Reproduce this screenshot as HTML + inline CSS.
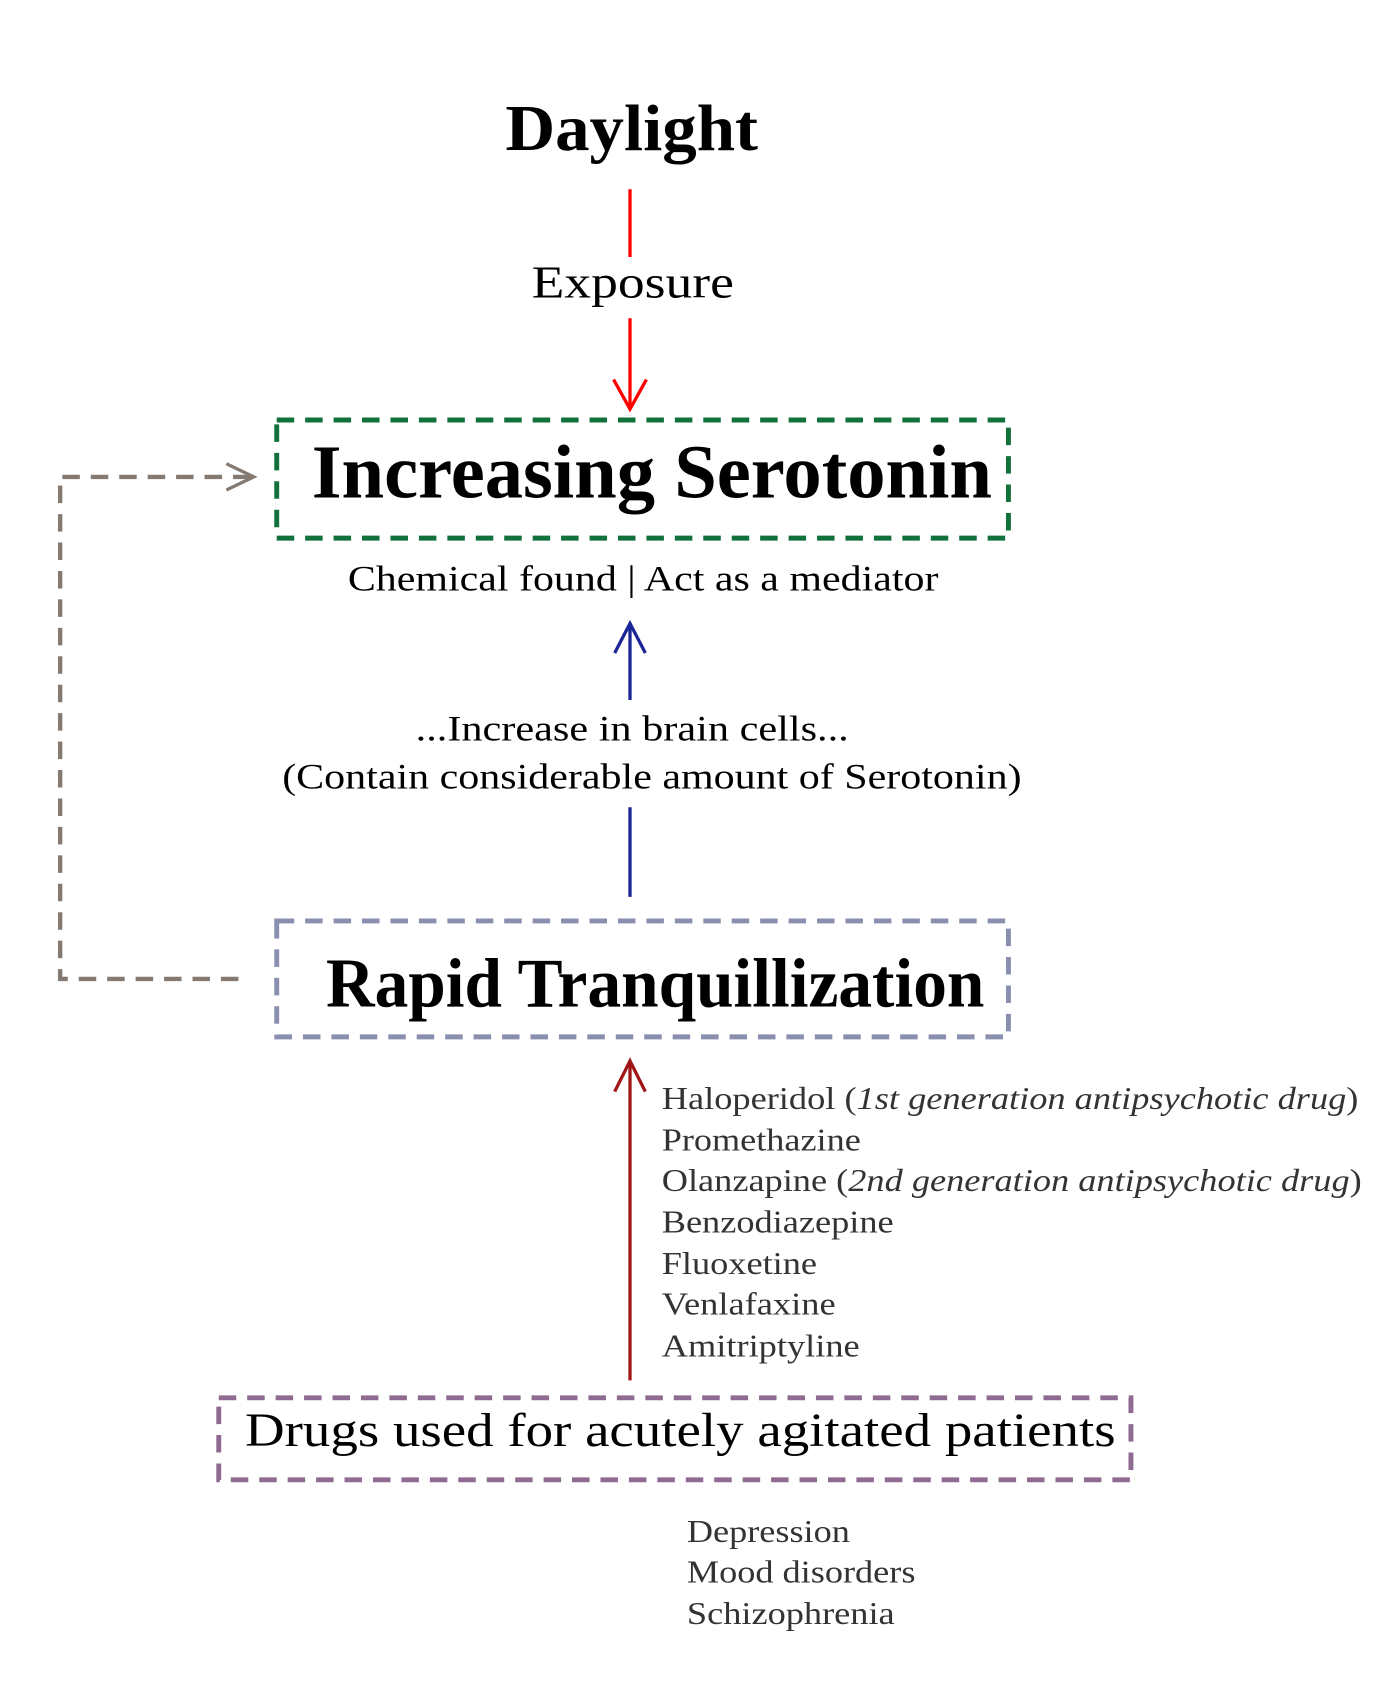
<!DOCTYPE html>
<html><head><style>html,body{margin:0;padding:0;background:#fff}svg{display:block}</style></head>
<body>
<svg width="1400" height="1708" viewBox="0 0 1280 1561.6" xmlns="http://www.w3.org/2000/svg" font-family="'Liberation Serif', serif">
<rect width="1280" height="1562" fill="#fff"/>
<text x="462" y="137" font-size="60" font-weight="bold" textLength="231" lengthAdjust="spacingAndGlyphs">Daylight</text>
<line x1="576" y1="173" x2="576" y2="235" stroke="#f00" stroke-width="3"/>
<text x="486" y="272" font-size="42" textLength="185" lengthAdjust="spacingAndGlyphs">Exposure</text>
<line x1="576" y1="291" x2="576" y2="373" stroke="#f00" stroke-width="3"/>
<polyline points="561,347 576,374 591,347" fill="none" stroke="#f00" stroke-width="3"/>
<rect x="253" y="384" width="669" height="108" fill="none" stroke="#12703a" stroke-width="4.5" stroke-dasharray="16,10"/>
<text x="285" y="455" font-size="70" font-weight="bold" textLength="622" lengthAdjust="spacingAndGlyphs">Increasing Serotonin</text>
<text x="318" y="540" font-size="33" textLength="540" lengthAdjust="spacingAndGlyphs">Chemical found | Act as a mediator</text>
<line x1="576" y1="572" x2="576" y2="640" stroke="#1a2596" stroke-width="3"/>
<polyline points="562,597 576,570 590,597" fill="none" stroke="#1a2596" stroke-width="3"/>
<text x="380" y="677" font-size="33" textLength="396" lengthAdjust="spacingAndGlyphs">...Increase in brain cells...</text>
<text x="258" y="721" font-size="33" textLength="676" lengthAdjust="spacingAndGlyphs">(Contain considerable amount of Serotonin)</text>
<line x1="576" y1="738" x2="576" y2="820" stroke="#1a2596" stroke-width="3"/>
<rect x="253" y="842" width="669" height="106" fill="none" stroke="#8a8fb0" stroke-width="4.5" stroke-dasharray="16,10"/>
<text x="298" y="920" font-size="64" font-weight="bold" textLength="602" lengthAdjust="spacingAndGlyphs">Rapid Tranquillization</text>
<polyline points="218,895 55,895 55,436 232,436" fill="none" stroke="#857a72" stroke-width="4" stroke-dasharray="16,10"/>
<polyline points="207,424 232,436 207,448" fill="none" stroke="#857a72" stroke-width="3"/>
<line x1="576" y1="1262" x2="576" y2="972" stroke="#a01515" stroke-width="3"/>
<polyline points="562,998 576,970 590,998" fill="none" stroke="#a01515" stroke-width="3"/>
<g font-size="29" fill="#333">
<text x="605" y="1014" textLength="637" lengthAdjust="spacingAndGlyphs">Haloperidol (<tspan font-style="italic">1st generation antipsychotic drug</tspan>)</text>
<text x="605" y="1052" textLength="182" lengthAdjust="spacingAndGlyphs">Promethazine</text>
<text x="605" y="1089" textLength="640" lengthAdjust="spacingAndGlyphs">Olanzapine (<tspan font-style="italic">2nd generation antipsychotic drug</tspan>)</text>
<text x="605" y="1127" textLength="212" lengthAdjust="spacingAndGlyphs">Benzodiazepine</text>
<text x="605" y="1165" textLength="142" lengthAdjust="spacingAndGlyphs">Fluoxetine</text>
<text x="605" y="1202" textLength="159" lengthAdjust="spacingAndGlyphs">Venlafaxine</text>
<text x="605" y="1240" textLength="181" lengthAdjust="spacingAndGlyphs">Amitriptyline</text>
<text x="628" y="1410" textLength="149" lengthAdjust="spacingAndGlyphs">Depression</text>
<text x="628" y="1447" textLength="209" lengthAdjust="spacingAndGlyphs">Mood disorders</text>
<text x="628" y="1485" textLength="190" lengthAdjust="spacingAndGlyphs">Schizophrenia</text>
</g>
<rect x="200" y="1278" width="834" height="75" fill="none" stroke="#8f6b91" stroke-width="4.5" stroke-dasharray="16,10"/>
<text x="224" y="1322" font-size="44" textLength="796" lengthAdjust="spacingAndGlyphs">Drugs used for acutely agitated patients</text>
</svg>
</body></html>
